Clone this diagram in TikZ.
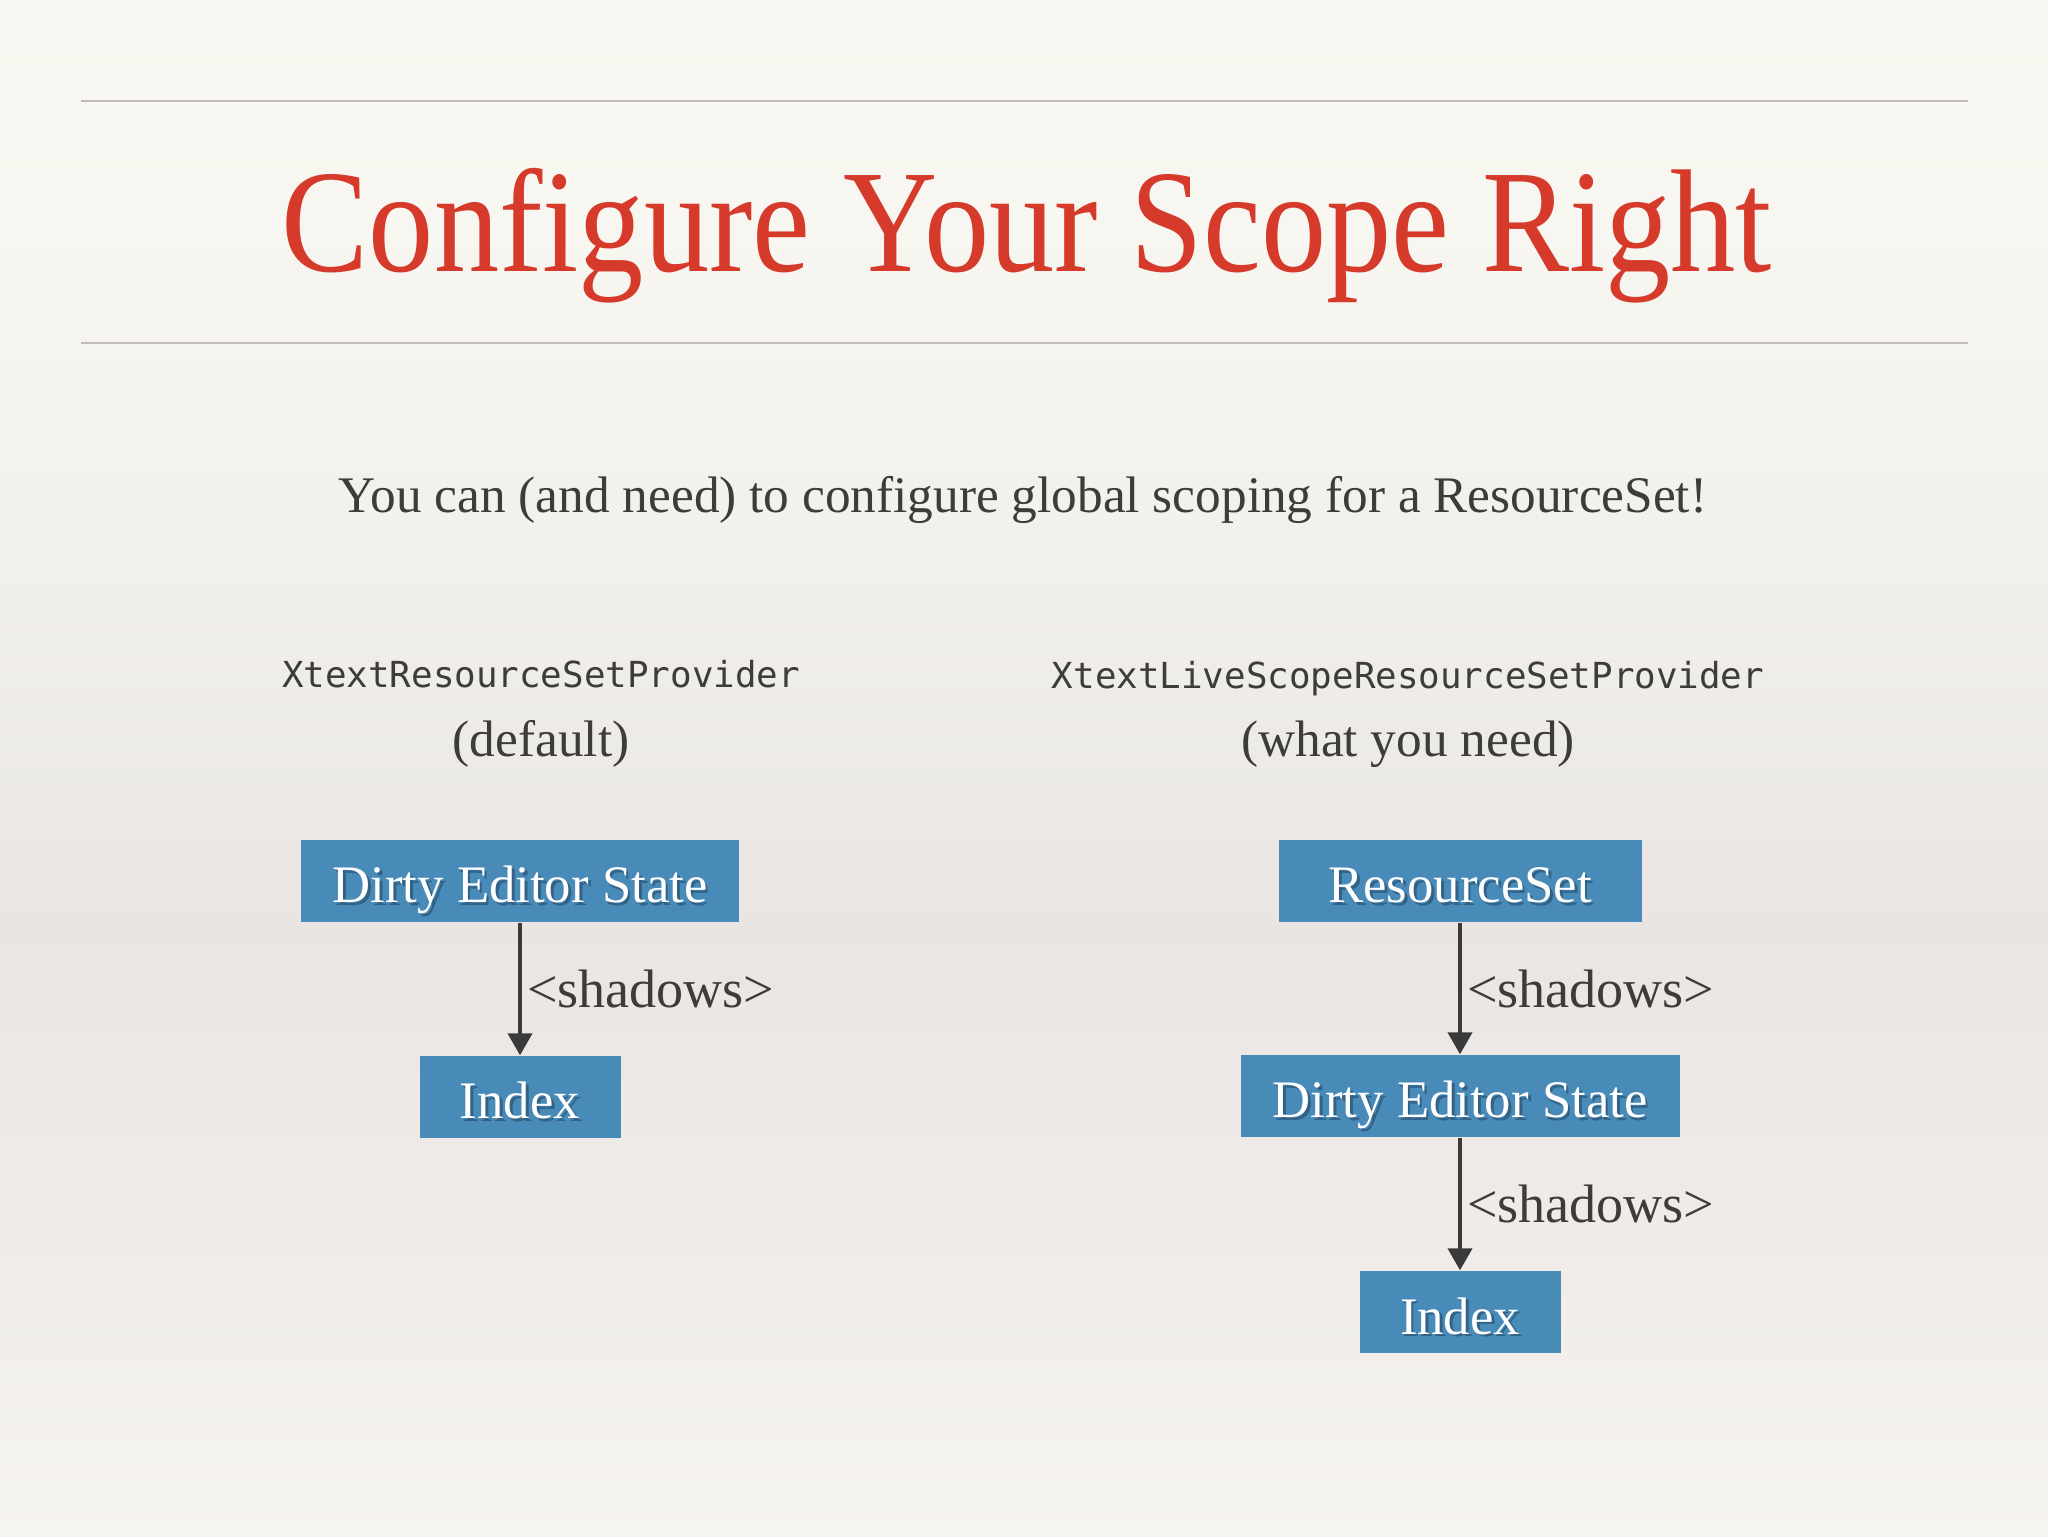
\documentclass[tikz,border=0pt]{standalone}
\usepackage{graphicx}
\usepackage{fontspec}
\setmainfont{Liberation Serif}
\setmonofont{DejaVu Sans Mono}
\usetikzlibrary{arrows.meta}

\definecolor{titlered}{RGB}{213,58,43}
\definecolor{textgrey}{RGB}{62,60,58}
\definecolor{rulegrey}{RGB}{192,190,183}
\definecolor{arrowgrey}{RGB}{58,58,58}
\definecolor{boxblue}{RGB}{72,138,184}
\definecolor{boxshade}{RGB}{50,98,134}

\pgfdeclareverticalshading{slidebg}{100bp}{%
  rgb(0bp)=(0.965,0.957,0.933); rgb(25bp)=(0.965,0.957,0.933);
  rgb(35bp)=(0.937,0.925,0.910); rgb(45bp)=(0.910,0.898,0.890);
  rgb(55bp)=(0.945,0.937,0.918); rgb(68bp)=(0.969,0.965,0.941);
  rgb(75bp)=(0.976,0.973,0.949); rgb(100bp)=(0.976,0.973,0.949)}

% white box text with a soft drop shadow
\newcommand{\shtext}[1]{\makebox[0pt][l]{\kern0.8pt\raisebox{-0.8pt}{\color{boxshade}#1}}#1}

\begin{document}
\begin{tikzpicture}[x=0.1mm, y=-0.1mm,
            plain/.style = {text=textgrey, inner sep=0mm, font=\fontsize{14.6}{17}\selectfont},
            code/.style = {text=textgrey, inner sep=0mm, font=\ttfamily\fontsize{10.2}{12}\selectfont},
            box/.style = {fill=boxblue, text=white, inner sep=0mm, minimum height=8.2mm,
                          text height=12.5pt, text depth=0pt, font=\fontsize{15}{18}\selectfont},
            lbl/.style = {right, inner sep=0.5mm, text=textgrey, font=\fontsize{15.4}{18}\selectfont},
            arr/.style = {draw=arrowgrey, line width=1.15pt, -{Triangle[length=2.2mm, width=2.4mm]}},
            rule/.style = {draw=rulegrey, line width=0.6pt},
        ]
        \useasboundingbox (0,0) rectangle (2048,1536);
        \shade[shading=slidebg] (0,0) rectangle (2048,1536);

        % heading
        \draw[rule] (81,101) -- (1968,101);
        \draw[rule] (81,343) -- (1968,343);
        \node (title) [anchor=base, inner sep=0mm, text=titlered, font=\fontsize{41.7}{48}\selectfont]
            at (1027,271) {\scalebox{0.89}[1]{Configure Your Scope Right}};

        \node (sub) [plain, anchor=base] at (1023,512) {You can (and need) to configure global scoping for a ResourceSet!};

        \node (provL) [code, anchor=base] at (541,687) {XtextResourceSetProvider};
        \node (noteL) [plain, anchor=base] at (541,756) {(default)};
        \node (provR) [code, anchor=base] at (1408,688) {XtextLiveScopeResourceSetProvider};
        \node (noteR) [plain, anchor=base] at (1408,756) {(what you need)};

        % default chain
        \node (DesL) [box, minimum width=43.8mm] at (520,881) {\shtext{Dirty Editor State}};
        \node (IdxL) [box, minimum width=20.1mm] at (520,1097) {\shtext{Index}};

        % live scope chain
        \node (RsR) [box, minimum width=36.3mm] at (1460,881) {\shtext{ResourceSet}};
        \node (DesR) [box, minimum width=43.9mm] at (1460,1096) {\shtext{Dirty Editor State}};
        \node (IdxR) [box, minimum width=20.1mm] at (1460,1312) {\shtext{Index}};

        \path[arr] (DesL) -- node[lbl] {<shadows>} (IdxL);
        \path[arr] (RsR) -- node[lbl] {<shadows>} (DesR);
        \path[arr] (DesR) -- node[lbl] {<shadows>} (IdxR);
    \end{tikzpicture}
\end{document}
